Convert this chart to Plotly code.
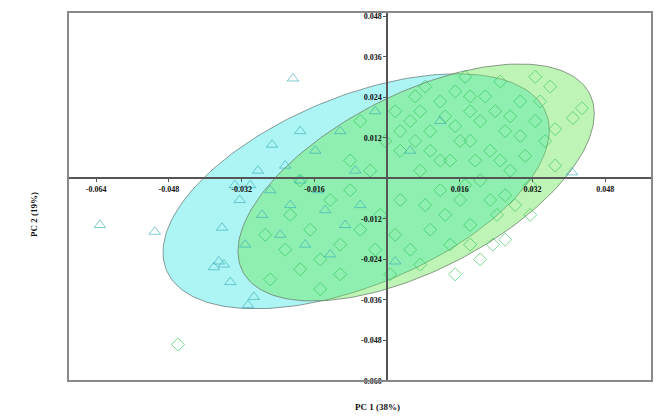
import numpy as np
import plotly.graph_objects as go

# ---- data ----
tri_x = [-0.0632, -0.0511, -0.0207, -0.0363, -0.0370, -0.0381, -0.0359, -0.0306, -0.0293,
         -0.0253, -0.0324, -0.0335, -0.0275, -0.0213, -0.0191, -0.0235, -0.0180, -0.0136,
         -0.0158, -0.0103, -0.0070, -0.0059, -0.0125, -0.0312, -0.0345, 0.0018, 0.0051,
         -0.0026, 0.0407, 0.0117, -0.0257, -0.0284, -0.0092, -0.0152, -0.0191, -0.0224, -0.0301]
tri_y = [-0.0138, -0.0158, 0.0296, -0.0146, -0.0246, -0.0263, -0.0255, -0.0375, -0.0351,
         0.0100, -0.0064, -0.0020, -0.0108, -0.0079, -0.0006, -0.0167, -0.0196, -0.0094,
         0.0082, 0.0140, 0.0023, -0.0079, -0.0225, -0.0196, -0.0307, -0.0246, 0.0082,
         0.0199, 0.0018, 0.0170, -0.0035, 0.0023, -0.0138, -0.0035, 0.0140, 0.0038, -0.0020]

dia_x = [-0.0460, 0.0409, 0.0429, 0.0370, 0.0326, 0.0242, 0.0233, 0.0348, 0.0293, 0.0260,
         0.0227, 0.0183, 0.0150, 0.0117, 0.0084, 0.0183, 0.0139, 0.0095, 0.0051, 0.0029,
         0.0073, 0.0117, 0.0161, 0.0205, 0.0271, 0.0304, 0.0029, -0.0015, -0.0059, -0.0103,
         -0.0147, -0.0191, -0.0224, -0.0257, -0.0169, -0.0125, -0.0081, -0.0037, -0.0004, 0.0018,
         0.0062, 0.0095, 0.0139, 0.0051, 0.0007, 0.0073, 0.0183, 0.0260, 0.0315, 0.0370,
         0.0216, 0.0249, 0.0150, -0.0081, -0.0191, -0.0213, -0.0268, 0.0117, -0.0059, 0.0018,
         0.0150, -0.0103, 0.0205, 0.0260, 0.0315, 0.0062, 0.0172, 0.0326, -0.0026, -0.0147,
         0.0183, 0.0205, 0.0238, 0.0271, 0.0161, 0.0194, 0.0249, 0.0293, 0.0337, 0.0359,
         0.0095, 0.0128, 0.0029, 0.0073, 0.0172, 0.0227, 0.0282, 0.0084, 0.0128, 0.0183]
dia_y = [-0.0492, 0.0179, 0.0208, 0.0146, 0.0301, -0.0108, -0.0196, 0.0111, 0.0228, 0.0140,
         0.0082, 0.0199, 0.0258, 0.0228, 0.0272, 0.0111, 0.0053, 0.0140, 0.0170, 0.0082,
         0.0023, -0.0035, -0.0064, -0.0006, 0.0023, 0.0067, -0.0064, -0.0108, -0.0152, -0.0196,
         -0.0240, -0.0269, -0.0211, -0.0299, -0.0152, -0.0064, -0.0035, 0.0023, 0.0111, 0.0199,
         0.0243, -0.0152, -0.0196, -0.0211, -0.0284, -0.0255, -0.0138, -0.0050, -0.0020, 0.0038,
         0.0243, 0.0287, 0.0155, 0.0053, -0.0006, -0.0108, -0.0167, 0.0053, 0.0170, -0.0167,
         -0.0284, -0.0284, -0.0240, -0.0181, -0.0108, 0.0111, 0.0301, 0.0170, -0.0211, -0.0328,
         0.0243, 0.0170, 0.0199, 0.0184, 0.0111, 0.0053, 0.0053, 0.0126, 0.0228, 0.0272,
         0.0082, 0.0184, 0.0140, 0.0199, -0.0020, -0.0064, -0.0079, -0.0079, -0.0108, -0.0196]

# confidence ellipses: center x, center y, sd x, sd y, correlation
ell_cyan = dict(cx=-0.0068, cy=-0.0038, sx=0.0425, sy=0.0348, rho=0.52)
ell_green = dict(cx=0.0064, cy=-0.0012, sx=0.0392, sy=0.0351, rho=0.58)

x_ticks = [-0.064, -0.048, -0.032, -0.016, 0.016, 0.032, 0.048]
y_ticks = [0.048, 0.036, 0.024, 0.012, -0.012, -0.024, -0.036, -0.048, -0.060]
x_range = [-0.0702, 0.0583]
y_range = [-0.060, 0.0493]


def ellipse(e, n=200):
    t = np.linspace(0, 2 * np.pi, n)
    x = e["cx"] + e["sx"] * np.cos(t)
    y = e["cy"] + e["sy"] * (e["rho"] * np.cos(t) + np.sqrt(1 - e["rho"] ** 2) * np.sin(t))
    return x, y


fig = go.Figure()
ex, ey = ellipse(ell_cyan)
fig.add_trace(go.Scatter(x=ex, y=ey, mode="lines", fill="toself",
                         fillcolor="rgba(50,228,228,0.40)",
                         line=dict(color="rgba(110,130,130,0.8)", width=1), hoverinfo="skip"))
ex, ey = ellipse(ell_green)
fig.add_trace(go.Scatter(x=ex, y=ey, mode="lines", fill="toself",
                         fillcolor="rgba(100,232,80,0.42)",
                         line=dict(color="rgba(110,130,110,0.8)", width=1), hoverinfo="skip"))
fig.add_trace(go.Scatter(x=tri_x, y=tri_y, mode="markers",
                         marker=dict(symbol="triangle-up-open", size=10,
                                     color="rgba(60,175,185,0.65)", line=dict(width=1))))
fig.add_trace(go.Scatter(x=dia_x, y=dia_y, mode="markers",
                         marker=dict(symbol="diamond-open", size=10,
                                     color="rgba(40,195,80,0.6)", line=dict(width=1))))

xpos = (0 - y_range[0]) / (y_range[1] - y_range[0])
ypos = (0 - x_range[0]) / (x_range[1] - x_range[0])

font = dict(family="Liberation Serif", size=8, color="#111", weight="bold")
fig.update_layout(
    width=657, height=420,
    margin=dict(l=68, r=5, t=12, b=39),
    paper_bgcolor="white", plot_bgcolor="white",
    showlegend=False,
    font=font,
    xaxis=dict(range=x_range, tickvals=x_ticks, ticktext=[f"{v:.3f}" for v in x_ticks],
               anchor="free", position=xpos, showline=True, linecolor="#555", linewidth=1.5,
               ticks="outside", ticklen=3, tickcolor="#555", showgrid=False, zeroline=False,
               tickfont=font),
    yaxis=dict(range=y_range, tickvals=y_ticks, ticktext=[f"{v:.3f}" for v in y_ticks],
               anchor="free", position=ypos, showline=True, linecolor="#555", linewidth=1.5,
               ticks="outside", ticklen=3, tickcolor="#555", showgrid=False, zeroline=False,
               tickfont=font),
    shapes=[dict(type="rect", xref="paper", yref="paper", x0=0, x1=1, y0=0, y1=1,
                 line=dict(color="#888", width=2))],
    annotations=[
        dict(text="PC 1 (38%)", xref="paper", yref="paper", x=0.53, y=0, yshift=-33,
             showarrow=False,
             font=dict(family="Liberation Serif", size=9, color="#111", weight="bold")),
        dict(text="PC 2 (19%)", xref="paper", yref="paper", x=0, xshift=-41, y=0.45,
             textangle=-90, showarrow=False,
             font=dict(family="Liberation Serif", size=9, color="#111", weight="bold")),
    ],
)

fig.write_html("out.html")
